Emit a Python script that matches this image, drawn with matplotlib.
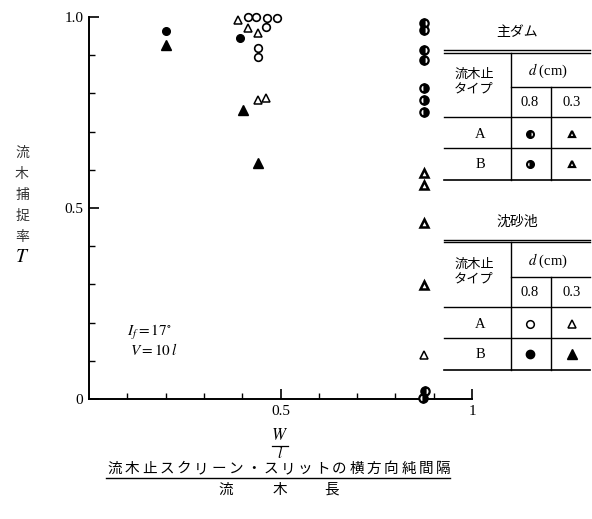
import matplotlib
matplotlib.use('Agg')
from matplotlib import pyplot as plt
from matplotlib.lines import Line2D

plt.rcParams['font.family'] = ['Liberation Serif', 'Noto Sans CJK JP']
plt.rcParams['mathtext.fontset'] = 'stix'

W_PX, H_PX = 592, 519

# 沈砂池 (sediment pond)
sed_A08_x = [0.416, 0.435, 0.466, 0.49, 0.461, 0.44, 0.44]
sed_A08_y = [1.0, 1.0, 0.997, 0.997, 0.974, 0.92, 0.895]
sed_A03_x = [0.39, 0.414, 0.44, 0.442, 0.461, 0.875]
sed_A03_y = [0.992, 0.971, 0.958, 0.783, 0.788, 0.115]
sed_B08_x = [0.2, 0.395]
sed_B08_y = [0.963, 0.945]
sed_B03_x = [0.2, 0.403, 0.442]
sed_B03_y = [0.927, 0.757, 0.618]

# 主ダム (main dam)
main_A08_x = [0.875, 0.875, 0.875, 0.875, 0.878]
main_A08_y = [0.985, 0.965, 0.914, 0.887, 0.02]
main_B08_x = [0.875, 0.875, 0.875, 0.872]
main_B08_y = [0.814, 0.783, 0.751, 0.003]
main_A03_x = [0.875, 0.875, 0.875, 0.875]
main_A03_y = [0.592, 0.560, 0.461, 0.298]

y_label_chars = ['流', '木', '捕', '捉', '率']
x_label_text = '流木止スクリーン・スリットの横方向純間隔'
x_label_denom = ['流', '木', '長']


def fx(px):
    return px / W_PX


def fy(py):
    return 1 - py / H_PX


fig = plt.figure(figsize=(5.92, 5.19), dpi=100)
ax = fig.add_axes([fx(89), fy(399), fx(472) - fx(89), fy(17) - fy(399)])

styles = dict(linestyle='none', clip_on=False, zorder=3)
ax.plot(sed_A08_x, sed_A08_y, marker='o', ms=5.5, mfc='white', mec='black', mew=1.2, **styles)
ax.plot(sed_A03_x, sed_A03_y, marker='^', ms=6, mfc='white', mec='black', mew=1.1, **styles)
ax.plot(sed_B08_x, sed_B08_y, marker='o', ms=5.5, mfc='black', mec='black', **styles)
ax.plot(sed_B03_x, sed_B03_y, marker='^', ms=6.5, mfc='black', mec='black', **styles)
ax.plot(main_A08_x, main_A08_y, marker='o', ms=6, fillstyle='left', mfc='black',
        markerfacecoloralt='white', mec='black', mew=1.6, **styles)
ax.plot(main_B08_x, main_B08_y, marker='o', ms=6, fillstyle='right', mfc='black',
        markerfacecoloralt='white', mec='black', mew=1.6, **styles)
ax.plot(main_A03_x, main_A03_y, marker='^', ms=5.5, mfc='white', mec='black', mew=1.8, **styles)

ax.set_xlim(0, 1)
ax.set_ylim(0, 1)
for s in ['top', 'right']:
    ax.spines[s].set_visible(False)
for s in ['left', 'bottom']:
    ax.spines[s].set_linewidth(1.4)

ax.set_xticks([0.5, 1.0])
ax.set_xticklabels(['0.5', '1'])
ax.set_xticks([0.1, 0.2, 0.3, 0.4, 0.6, 0.7, 0.8, 0.9], minor=True)
ax.set_yticks([0, 0.5, 1.0])
ax.set_yticklabels(['0', '0.5', '1.0'])
ax.set_yticks([0.1, 0.2, 0.3, 0.4, 0.6, 0.7, 0.8, 0.9], minor=True)
ax.tick_params(which='major', direction='in', length=7, width=1.2, labelsize=11, pad=4)
ax.tick_params(which='minor', direction='in', length=4, width=1.0)

fig.text(fx(127), fy(333), '$I_f = 17^{\\circ}$', fontsize=11, va='center')
fig.text(fx(130), fy(350), '$V = 10\\,l$', fontsize=11, va='center')

# y label
for i, ch in enumerate(y_label_chars):
    fig.text(fx(22), fy(153 + i * 21), ch, fontsize=10, ha='center', va='center',
             family='Noto Sans CJK JP', color='#333333')
fig.text(fx(22), fy(257), '$T$', fontsize=14, ha='center', va='center')

# x label
fig.text(fx(280), fy(436), '$W$', fontsize=12, ha='center', va='center')
fig.add_artist(Line2D([fx(272), fx(288)], [fy(446), fy(446)], color='black', lw=0.9))
fig.text(fx(280), fy(453), '$l$', fontsize=11, ha='center', va='center')
step = (443 - 115) / (len(x_label_text) - 1)
for i, ch in enumerate(x_label_text):
    fig.text(fx(115 + i * step), fy(469), ch, fontsize=10.5, ha='center', va='center',
             family='Noto Sans CJK JP')
fig.add_artist(Line2D([fx(106), fx(450)], [fy(478), fy(478)], color='black', lw=1.0))
for ch, px in zip(x_label_denom, [226, 280, 332]):
    fig.text(fx(px), fy(490), ch, fontsize=10.5, ha='center', va='center',
             family='Noto Sans CJK JP')


def draw_table(top, title, sym08, sym03):
    # top: y of double line
    def hline(y, x0=444, x1=590, lw=1.0):
        fig.add_artist(Line2D([fx(x0), fx(x1)], [fy(y), fy(y)], color='black', lw=lw))

    def vline(x, y0, y1):
        fig.add_artist(Line2D([fx(x), fx(x)], [fy(y0), fy(y1)], color='black', lw=1.0))

    fig.text(fx(517), fy(top - 19), title, fontsize=10, ha='center', va='center',
             family='Noto Sans CJK JP')
    hline(top - 1.5)
    hline(top + 1.5)
    vline(511, top + 1.5, top + 129)
    hline(top + 36, x0=511)
    vline(551, top + 36, top + 129)
    hline(top + 66)
    hline(top + 97)
    hline(top + 129, lw=1.2)
    fig.text(fx(474), fy(top + 23), '流木止', fontsize=9.5, ha='center', va='center',
             family='Noto Sans CJK JP')
    fig.text(fx(474), fy(top + 38), 'タイプ', fontsize=9.5, ha='center', va='center',
             family='Noto Sans CJK JP')
    fig.text(fx(548), fy(top + 20), '$d$ (cm)', fontsize=10.5, ha='center', va='center')
    fig.text(fx(530), fy(top + 52), '0.8', fontsize=10.5, ha='center', va='center')
    fig.text(fx(572), fy(top + 52), '0.3', fontsize=10.5, ha='center', va='center')
    fig.text(fx(480), fy(top + 83), 'A', fontsize=10.5, ha='center', va='center')
    fig.text(fx(480), fy(top + 113), 'B', fontsize=10.5, ha='center', va='center')
    for (row_y, col_x), kw in zip([(83, 530), (83, 572), (113, 530), (113, 572)],
                                  [sym08[0], sym03[0], sym08[1], sym03[1]]):
        fig.add_artist(Line2D([fx(col_x)], [fy(top + row_y)], linestyle='none', **kw))


half_A = dict(marker='o', ms=5, fillstyle='left', mfc='black', markerfacecoloralt='white',
              mec='black', mew=1.5)
half_B = dict(marker='o', ms=5, fillstyle='right', mfc='black', markerfacecoloralt='white',
              mec='black', mew=1.5)
bold_tri = dict(marker='^', ms=5, mfc='white', mec='black', mew=1.6)
draw_table(51, '主ダム', [half_A, half_B], [bold_tri, bold_tri])

open_c = dict(marker='o', ms=5.5, mfc='white', mec='black', mew=1.1)
fill_c = dict(marker='o', ms=6, mfc='black', mec='black')
open_t = dict(marker='^', ms=6, mfc='white', mec='black', mew=1.1)
fill_t = dict(marker='^', ms=6.5, mfc='black', mec='black')
draw_table(241, '沈砂池', [open_c, fill_c], [open_t, fill_t])

fig.savefig('out.png', dpi=100)
